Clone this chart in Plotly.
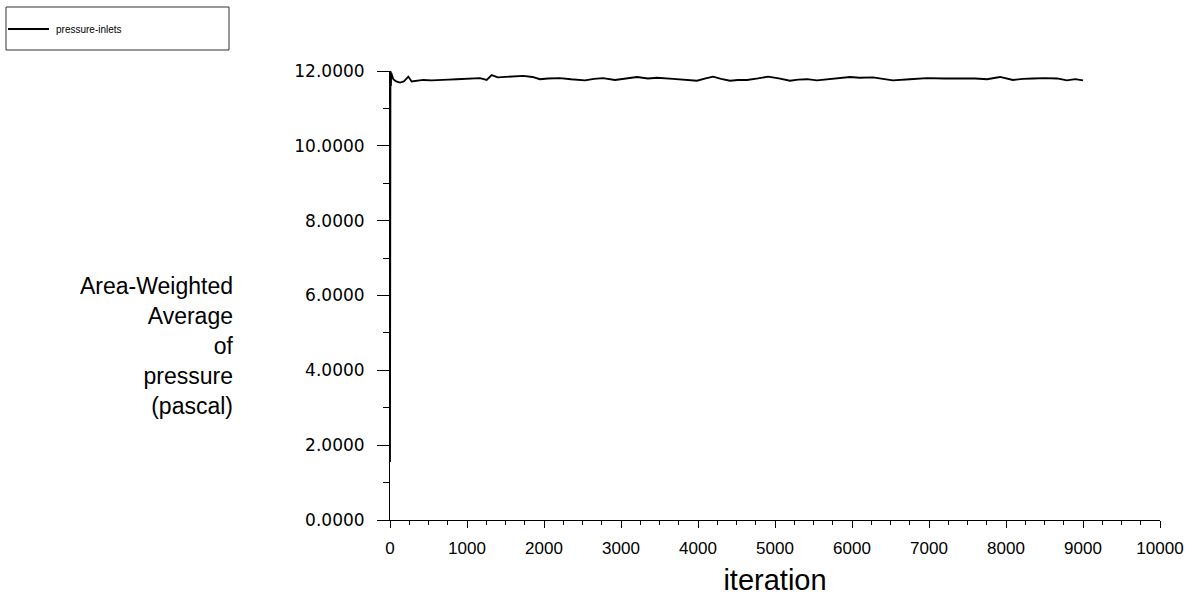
import plotly.graph_objects as go

# ---- data ----
series_name = "pressure-inlets"
iterations = [0, 2, 4, 6, 9, 12, 16, 22, 43, 80, 130, 180, 238, 281, 350, 433, 540, 650,
              760, 866, 1000, 1169, 1256, 1320, 1400, 1472, 1600, 1732, 1850, 1948, 2050,
              2165, 2208, 2350, 2532, 2650, 2766, 2922, 3050, 3208, 3350, 3468, 3675, 3850,
              3987, 4100, 4195, 4300, 4416, 4520, 4636, 4780, 4909, 5050, 5195, 5300, 5416,
              5545, 5750, 5974, 6100, 6273, 6400, 6532, 6750, 6974, 7200, 7403, 7600, 7753,
              7922, 8091, 8220, 8351, 8500, 8662, 8792, 8900, 9000]
pressure = [1.55, 5.10, 11.20, 12.00, 11.10, 11.60, 11.95, 11.90, 11.78, 11.72, 11.69, 11.72,
            11.85, 11.72, 11.74, 11.76, 11.75, 11.75, 11.77, 11.78, 11.79, 11.81, 11.76,
            11.89, 11.83, 11.84, 11.86, 11.87, 11.84, 11.78, 11.80, 11.81, 11.81, 11.78,
            11.75, 11.79, 11.81, 11.76, 11.80, 11.84, 11.80, 11.82, 11.79, 11.77, 11.74,
            11.80, 11.85, 11.79, 11.74, 11.76, 11.76, 11.80, 11.85, 11.80, 11.74, 11.77,
            11.78, 11.75, 11.79, 11.84, 11.82, 11.83, 11.79, 11.75, 11.78, 11.81, 11.80,
            11.81, 11.80, 11.78, 11.84, 11.76, 11.79, 11.80, 11.81, 11.80, 11.75, 11.78,
            11.75]
y_title_lines = ["Area-Weighted", "Average", "of", "pressure", "(pascal)"]
x_title = "iteration"

# ---- layout geometry (pixels) ----
W, H = 1194, 599
ML, MR, MT, MB = 390, 34, 71, 79
PW, PH = W - ML - MR, H - MT - MB


def px_x(px):
    return (px - ML) / PW


def px_y(py):
    return (H - MB - py) / PH


FONT = "Liberation Sans, Arial, sans-serif"

fig = go.Figure()
fig.add_trace(go.Scatter(x=iterations, y=pressure, mode="lines", name=series_name,
                         line=dict(color="black", width=1.8), showlegend=False))

axis_common = dict(showgrid=False, zeroline=False, showline=True, linecolor="black",
                   linewidth=1, ticks="outside", tickcolor="black", tickwidth=1,
                   color="black", automargin=False)

fig.update_xaxes(range=[0, 10000], dtick=1000, tick0=0, ticklen=7, tickformat="d",
                 ticklabelstandoff=6,
                 minor=dict(dtick=250, ticklen=4, ticks="outside", tickcolor="black"),
                 tickfont=dict(family=FONT, size=17, color="black"),
                 title=dict(text=x_title, font=dict(family=FONT, size=29, color="black"),
                            standoff=12),
                 **axis_common)
fig.update_yaxes(range=[0, 12], dtick=2, tick0=0, ticklen=12, tickformat=".4f",
                 ticklabelstandoff=9,
                 minor=dict(dtick=1, ticklen=6, ticks="outside", tickcolor="black"),
                 tickfont=dict(family="DejaVu Sans, sans-serif", size=17, color="black"),
                 **axis_common)

# y-axis title: right-aligned multi-line text left of the axis
fig.add_annotation(text="<br>".join(y_title_lines), xref="paper", yref="paper",
                   x=px_x(236), y=px_y(346), xanchor="right", yanchor="middle",
                   showarrow=False, align="right",
                   font=dict(family=FONT, size=23, color="black"))

# legend box drawn at the top-left
fig.add_shape(type="rect", xref="paper", yref="paper", x0=px_x(6), x1=px_x(229),
              y0=px_y(50), y1=px_y(7), line=dict(color="#333333", width=1),
              fillcolor="white", layer="above")
fig.add_shape(type="line", xref="paper", yref="paper", x0=px_x(8), x1=px_x(49),
              y0=px_y(29), y1=px_y(29), line=dict(color="black", width=2))
fig.add_annotation(text=series_name, xref="paper", yref="paper", x=px_x(54), y=px_y(29),
                   xanchor="left", yanchor="middle", showarrow=False,
                   font=dict(family=FONT, size=10, color="black"))

fig.update_layout(width=W, height=H, margin=dict(l=ML, r=MR, t=MT, b=MB, pad=0),
                  plot_bgcolor="white", paper_bgcolor="white", showlegend=False,
                  font=dict(family=FONT, color="black"))

fig.write_html("out.html")
